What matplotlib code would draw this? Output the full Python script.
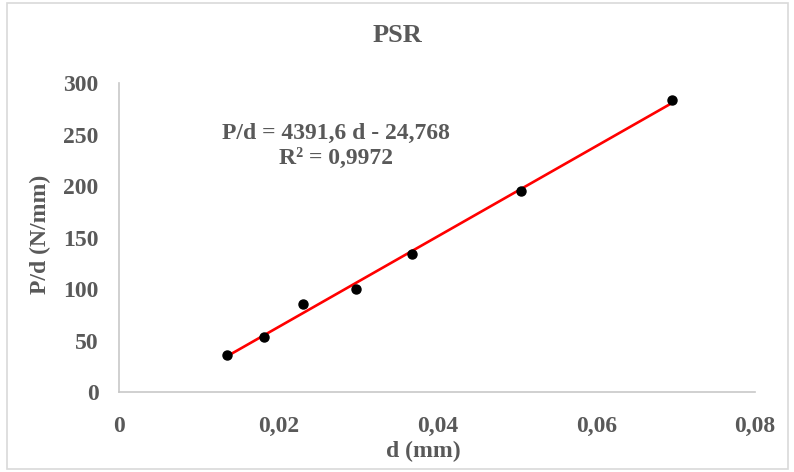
import numpy as np
import matplotlib
matplotlib.use("Agg")
import matplotlib.pyplot as plt
from matplotlib.patches import Rectangle
from matplotlib.ticker import FuncFormatter

plt.rcParams.update({
    "font.family": "Liberation Serif",
    "font.weight": "bold",
})

# measured points (d in mm, P/d in N/mm)
d_mm = [0.01353, 0.01815, 0.0231, 0.02971, 0.03678, 0.0505, 0.0696]
p_over_d = [35.9, 53.7, 85.1, 99.7, 134.0, 195.1, 283.2]

# linear trendline reported on the chart
slope = 4391.6
intercept = -24.768
r2 = 0.9972

x_ticks = [0, 0.02, 0.04, 0.06, 0.08]
y_ticks = [0, 50, 100, 150, 200, 250, 300]

GREY = "#595959"
AXIS = "#C8C8C8"
FS = 17

fig = plt.figure(figsize=(7.94, 4.72), dpi=100)
ax = fig.add_axes([0.1505, 0.1695, 0.8005, 0.6545])

fx = np.array([min(d_mm), max(d_mm)])
ax.plot(fx, slope * fx + intercept, color="#FF0000", lw=1.9, zorder=2)
ax.plot(d_mm, p_over_d, "o", color="black", ms=6.5, zorder=3)

ax.set_xlim(0, 0.08)
ax.set_ylim(0, 300)
ax.set_xticks(x_ticks)
ax.set_yticks(y_ticks)
ax.xaxis.set_major_formatter(FuncFormatter(
    lambda v, _: "0" if v == 0 else f"{v:.2f}".replace(".", ",")))
ax.tick_params(length=0, labelsize=FS, colors=GREY)
ax.tick_params(axis="x", pad=17)
ax.tick_params(axis="y", pad=15)
for lab in ax.get_xticklabels() + ax.get_yticklabels():
    lab.set_fontweight("bold")

for s in ("top", "right"):
    ax.spines[s].set_visible(False)
for s in ("left", "bottom"):
    ax.spines[s].set_color(AXIS)
    ax.spines[s].set_linewidth(1.2)

ax.set_xlabel("d (mm)", fontsize=FS, color=GREY, fontweight="bold", labelpad=-2)
ax.xaxis.set_label_coords(0.478, -0.158)
ax.set_ylabel("P/d (N/mm)", fontsize=FS, color=GREY, fontweight="bold")
ax.yaxis.set_label_coords(-0.107, 0.51)
fig.text(0.5, 0.925, "PSR", ha="center", va="center", fontsize=19,
         color=GREY, fontweight="bold")

eq = f"P/d = {slope:.1f} d - {abs(intercept):.3f}".replace(".", ",")
r2_txt = f"R² = {r2:.4f}".replace(".", ",")
ax.text(0.0272, 251, eq, ha="center", va="center", fontsize=FS,
        color=GREY, fontweight="bold")
ax.text(0.0272, 227, r2_txt, ha="center", va="center", fontsize=FS,
        color=GREY, fontweight="bold")

fig.patches.append(Rectangle((0.009, 0.006), 0.983, 0.988, transform=fig.transFigure,
                             fill=False, edgecolor="#D9D9D9", lw=1.2))

fig.savefig("out.png", dpi=100)
